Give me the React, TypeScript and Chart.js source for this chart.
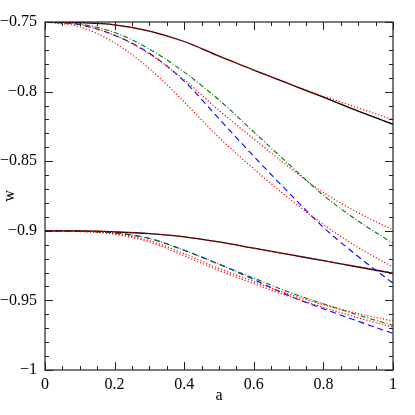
import React, { useEffect, useRef } from "react";
import { Chart, registerables } from "chart.js";

Chart.register(...registerables);

// scale factor a
const aValues = [0, 0.1, 0.2, 0.3, 0.4, 0.5, 0.6, 0.7, 0.8, 0.9, 1.0];

// upper family (w0 = -0.75)
const upperBlack = [-0.75, -0.7505, -0.752, -0.7565, -0.764, -0.7745, -0.7845, -0.7943, -0.804, -0.814, -0.8235];
const upperRedA = [-0.75, -0.7505, -0.752, -0.7565, -0.764, -0.7745, -0.7845, -0.7942, -0.8032, -0.8118, -0.820];
const upperGreen = [-0.75, -0.7515, -0.7575, -0.7695, -0.786, -0.806, -0.829, -0.852, -0.8745, -0.893, -0.909];
const upperRedB = [-0.75, -0.752, -0.7595, -0.773, -0.7915, -0.8135, -0.834, -0.854, -0.8725, -0.887, -0.8994];
const upperBlue = [-0.75, -0.752, -0.7595, -0.7725, -0.7925, -0.8195, -0.8465, -0.8725, -0.8975, -0.9185, -0.9377];
const upperRedC = [-0.75, -0.7535, -0.765, -0.7835, -0.8075, -0.833, -0.8555, -0.8765, -0.8955, -0.912, -0.926];

// lower family (w0 = -0.9)
const lowerBlack = [-0.9, -0.9001, -0.9008, -0.902, -0.9043, -0.908, -0.9125, -0.917, -0.9215, -0.926, -0.9305];
const lowerRedA = [-0.9, -0.9001, -0.9008, -0.902, -0.9043, -0.908, -0.9125, -0.917, -0.9214, -0.9258, -0.9302];
const lowerGreen = [-0.9, -0.9003, -0.9015, -0.9055, -0.914, -0.924, -0.934, -0.944, -0.9525, -0.9605, -0.968];
const lowerBlue = [-0.9, -0.9003, -0.9015, -0.9055, -0.914, -0.924, -0.935, -0.9465, -0.956, -0.965, -0.9737];
const lowerRedB = [-0.9, -0.9004, -0.902, -0.907, -0.9165, -0.927, -0.9365, -0.9455, -0.953, -0.9595, -0.9648];
const lowerRedC = [-0.9, -0.9005, -0.9025, -0.908, -0.918, -0.9285, -0.938, -0.947, -0.955, -0.9625, -0.9693];

const xTickValues = [0, 0.2, 0.4, 0.6, 0.8, 1];
const yTickValues = [-1, -0.95, -0.9, -0.85, -0.8, -0.75];

const FONT = "'Liberation Serif', 'Times New Roman', serif";

type Style = { color: string; dash: number[]; width: number };
const SOLID: Style = { color: "#000000", dash: [], width: 1.3 };
const DOTTED: Style = { color: "#ff0000", dash: [1.2, 2], width: 1.2 };
const DASHDOT: Style = { color: "#007a00", dash: [5, 2, 1, 2], width: 1.1 };
const DASHED: Style = { color: "#0000ff", dash: [6, 4], width: 1.1 };

function ds(values: number[], s: Style) {
  return {
    data: aValues.map((a, i) => ({ x: a, y: values[i] })),
    borderColor: s.color,
    borderDash: s.dash,
    borderWidth: s.width,
    pointRadius: 0,
    fill: false,
    cubicInterpolationMode: "monotone" as const,
  };
}

function fmt(v: number) {
  let s = Number(v.toFixed(2)).toString();
  return s.replace("-", "\u2212");
}

const frameTicks = {
  id: "frameTicks",
  afterDatasetsDraw(chart: any) {
    const { ctx, chartArea, scales } = chart;
    const { left, right, top, bottom } = chartArea;
    const xs = scales.x;
    const ys = scales.y;
    ctx.save();
    ctx.strokeStyle = "#222";
    ctx.lineWidth = 1.2;
    ctx.setLineDash([]);
    ctx.strokeRect(left, top, right - left, bottom - top);
    ctx.lineWidth = 1;
    ctx.beginPath();
    for (let i = 0; i <= 20; i++) {
      const px = Math.round(xs.getPixelForValue(i * 0.05)) + 0.5;
      const len = i % 4 === 0 ? 8 : 4;
      ctx.moveTo(px, bottom);
      ctx.lineTo(px, bottom - len);
      ctx.moveTo(px, top);
      ctx.lineTo(px, top + len);
    }
    for (let i = 0; i <= 25; i++) {
      const py = Math.round(ys.getPixelForValue(-1 + i * 0.01)) + 0.5;
      const len = i % 5 === 0 ? 8 : 4;
      ctx.moveTo(left, py);
      ctx.lineTo(left + len, py);
      ctx.moveTo(right, py);
      ctx.lineTo(right - len, py);
    }
    ctx.stroke();
    ctx.restore();
  },
};

export default function App() {
  const ref = useRef<HTMLCanvasElement>(null);
  useEffect(() => {
    if (!ref.current) return;
    const chart = new Chart(ref.current, {
      type: "line",
      data: {
        datasets: [
          ds(upperRedA, DOTTED),
          ds(upperBlack, SOLID),
          ds(upperRedB, DOTTED),
          ds(upperGreen, DASHDOT),
          ds(upperRedC, DOTTED),
          ds(upperBlue, DASHED),
          ds(lowerRedA, DOTTED),
          ds(lowerBlack, SOLID),
          ds(lowerRedB, DOTTED),
          ds(lowerRedC, DOTTED),
          ds(lowerGreen, DASHDOT),
          ds(lowerBlue, DASHED),
        ] as any,
      },
      options: {
        animation: false,
        responsive: false,
        devicePixelRatio: 1,
        layout: { padding: { top: 22, right: 22, left: 0, bottom: 0 } },
        plugins: { legend: { display: false }, tooltip: { enabled: false } },
        scales: {
          x: {
            type: "linear",
            min: 0,
            max: 1,
            afterFit: (s: any) => {
              s.height = 45;
            },
            afterBuildTicks: (s: any) => {
              s.ticks = xTickValues.map((v) => ({ value: v }));
            },
            grid: { display: false, drawTicks: false },
            border: { display: false },
            ticks: {
              autoSkip: false,
              maxRotation: 0,
              padding: 5,
              color: "#000",
              font: { family: FONT, size: 16 },
              callback: (v: any) => fmt(Number(v)),
            },
            title: {
              display: true,
              text: "a",
              color: "#000",
              font: { family: FONT, size: 16 },
              padding: { top: 0, bottom: 10 },
            },
          },
          y: {
            type: "linear",
            min: -1,
            max: -0.75,
            afterFit: (s: any) => {
              s.width = 45;
            },
            afterBuildTicks: (s: any) => {
              s.ticks = yTickValues.map((v) => ({ value: v }));
            },
            grid: { display: false, drawTicks: false },
            border: { display: false },
            ticks: {
              autoSkip: false,
              padding: 8,
              color: "#000",
              font: { family: FONT, size: 16 },
              callback: (v: any) => fmt(Number(v)),
            },
            title: {
              display: true,
              text: "w",
              color: "#000",
              font: { family: FONT, size: 16 },
              padding: { top: 0, bottom: 0 },
            },
          },
        },
      },
      plugins: [frameTicks],
    });
    return () => chart.destroy();
  }, []);
  return (
    <div style={{ position: "fixed", left: 0, top: 0, width: 415, height: 415, background: "#fff" }}>
      <canvas ref={ref} width={415} height={415} style={{ width: 415, height: 415, display: "block" }} />
    </div>
  );
}
